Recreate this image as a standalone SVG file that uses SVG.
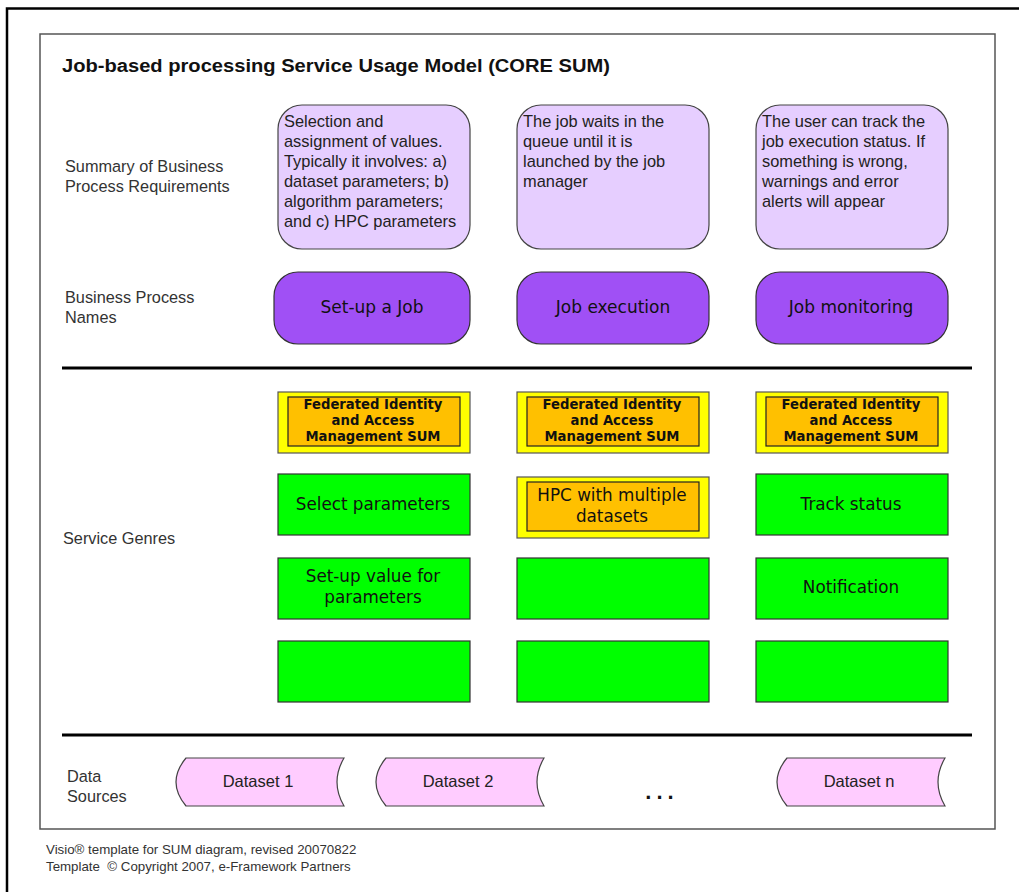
<svg xmlns="http://www.w3.org/2000/svg" width="1019" height="892" viewBox="0 0 1019 892">
<style>
.lbl{font-family:"Liberation Sans",Arial,sans-serif;font-size:16.3px;fill:#333}
.sum{fill:#E6CEFF;stroke:#444;stroke-width:1.2}
.sumt{font-family:"Liberation Sans",Arial,sans-serif;font-size:16.4px;fill:#222}
.proc{fill:#A050F5;stroke:#333;stroke-width:1.2}
.proct{font-family:"DejaVu Sans",Verdana,sans-serif;font-size:17px;fill:#111;text-anchor:middle}
.yel{fill:#FFFF00;stroke:#555;stroke-width:1.2}
.org{fill:#FFC000;stroke:#222;stroke-width:1.2}
.fiam{font-family:"DejaVu Sans",Verdana,sans-serif;font-size:13.2px;font-weight:bold;fill:#111;text-anchor:middle}
.grn{fill:#00FF00;stroke:#333;stroke-width:1.2}
.gt{font-family:"DejaVu Sans",Verdana,sans-serif;font-size:16.8px;fill:#111;text-anchor:middle}
.ds{fill:#FFCCFF;stroke:#444;stroke-width:1.2}
.dst{font-family:"Liberation Sans",Arial,sans-serif;font-size:16.5px;fill:#222;text-anchor:middle}
.foot{font-family:"Liberation Sans",Arial,sans-serif;font-size:13.3px;fill:#333}
</style>
<rect width="1019" height="892" fill="#fff"/>
<path d="M7 892 V8.5 H1019" fill="none" stroke="#000" stroke-width="2.5"/>
<rect x="40" y="34" width="955" height="795" fill="#fff" stroke="#555" stroke-width="1.5"/>
<text x="62" y="72" font-family="'Liberation Sans',Arial,sans-serif" font-size="18px" font-weight="bold" fill="#111" textLength="548" lengthAdjust="spacingAndGlyphs">Job-based processing Service Usage Model (CORE SUM)</text>

<g id="row-labels">
<text class="lbl" x="65" y="172">Summary of Business</text>
<text class="lbl" x="65" y="192">Process Requirements</text>
<text class="lbl" x="65" y="303">Business Process</text>
<text class="lbl" x="65" y="323">Names</text>
<text class="lbl" x="63" y="544">Service Genres</text>
<text class="lbl" x="67" y="782">Data</text>
<text class="lbl" x="67" y="802">Sources</text>
</g>

<g id="sum1"><rect class="sum" x="278" y="105" width="192" height="144" rx="24"/>
<text class="sumt" x="284" y="127">Selection and</text>
<text class="sumt" x="284" y="147">assignment of values.</text>
<text class="sumt" x="284" y="167">Typically it involves: a)</text>
<text class="sumt" x="284" y="187">dataset parameters; b)</text>
<text class="sumt" x="284" y="207">algorithm parameters;</text>
<text class="sumt" x="284" y="227">and c) HPC parameters</text></g>
<g id="sum2"><rect class="sum" x="517" y="105" width="192" height="144" rx="24"/>
<text class="sumt" x="523" y="127">The job waits in the</text>
<text class="sumt" x="523" y="147">queue until it is</text>
<text class="sumt" x="523" y="167">launched by the job</text>
<text class="sumt" x="523" y="187">manager</text></g>
<g id="sum3"><rect class="sum" x="756" y="105" width="192" height="144" rx="24"/>
<text class="sumt" x="762" y="127">The user can track the</text>
<text class="sumt" x="762" y="147">job execution status. If</text>
<text class="sumt" x="762" y="167">something is wrong,</text>
<text class="sumt" x="762" y="187">warnings and error</text>
<text class="sumt" x="762" y="207">alerts will appear</text></g>

<g id="proc1"><rect class="proc" x="274" y="272" width="196" height="72" rx="24"/><text class="proct" x="372" y="313">Set-up a Job</text></g>
<g id="proc2"><rect class="proc" x="517" y="272" width="192" height="72" rx="24"/><text class="proct" x="613" y="313">Job execution</text></g>
<g id="proc3"><rect class="proc" x="756" y="272" width="192" height="72" rx="24"/><text class="proct" x="851" y="313">Job monitoring</text></g>

<g id="separators">
<line x1="62" y1="368" x2="972" y2="368" stroke="#000" stroke-width="3"/>
<line x1="62" y1="735" x2="972" y2="735" stroke="#000" stroke-width="3"/>
</g>

<g id="fiam1"><rect class="yel" x="278" y="392" width="192" height="61"/><rect class="org" x="288" y="397" width="172" height="49"/>
<text class="fiam" x="373" y="409">Federated Identity</text><text class="fiam" x="373" y="425">and Access</text><text class="fiam" x="373" y="441">Management SUM</text></g>
<g id="fiam2"><rect class="yel" x="517" y="392" width="192" height="61"/><rect class="org" x="527" y="397" width="172" height="49"/>
<text class="fiam" x="612" y="409">Federated Identity</text><text class="fiam" x="612" y="425">and Access</text><text class="fiam" x="612" y="441">Management SUM</text></g>
<g id="fiam3"><rect class="yel" x="756" y="392" width="192" height="61"/><rect class="org" x="766" y="397" width="172" height="49"/>
<text class="fiam" x="851" y="409">Federated Identity</text><text class="fiam" x="851" y="425">and Access</text><text class="fiam" x="851" y="441">Management SUM</text></g>

<g id="g-select"><rect class="grn" x="278" y="474" width="192" height="61"/><text class="gt" x="373" y="510">Select parameters</text></g>
<g id="g-hpc"><rect class="yel" x="517" y="477" width="192" height="61"/><rect class="org" x="527" y="482" width="172" height="49"/>
<text class="gt" x="612" y="501">HPC with multiple</text><text class="gt" x="612" y="522">datasets</text></g>
<g id="g-track"><rect class="grn" x="756" y="474" width="192" height="61"/><text class="gt" x="851" y="510">Track status</text></g>

<g id="g-setup"><rect class="grn" x="278" y="558" width="192" height="61"/><text class="gt" x="373" y="582">Set-up value for</text><text class="gt" x="373" y="603">parameters</text></g>
<g id="g-empty1"><rect class="grn" x="517" y="558" width="192" height="61"/></g>
<g id="g-notif"><rect class="grn" x="756" y="558" width="192" height="61"/><text class="gt" x="851" y="593">Notification</text></g>

<g id="g-empty2"><rect class="grn" x="278" y="641" width="192" height="61"/></g>
<g id="g-empty3"><rect class="grn" x="517" y="641" width="192" height="61"/></g>
<g id="g-empty4"><rect class="grn" x="756" y="641" width="192" height="61"/></g>

<g id="ds1"><path class="ds" d="M186 758 H344 Q330 782 344 806 H186 Q166 782 186 758 Z"/><text class="dst" x="258" y="787">Dataset 1</text></g>
<g id="ds2"><path class="ds" d="M386 758 H544 Q530 782 544 806 H386 Q366 782 386 758 Z"/><text class="dst" x="458" y="787">Dataset 2</text></g>
<g id="ds-dots"><text x="662" y="799" font-family="'Liberation Sans',Arial,sans-serif" font-size="22px" font-weight="bold" fill="#111" text-anchor="middle" letter-spacing="5">...</text></g>
<g id="dsn"><path class="ds" d="M787 758 H945 Q931 782 945 806 H787 Q767 782 787 758 Z"/><text class="dst" x="859" y="787">Dataset n</text></g>

<g id="connectors"></g>

<text class="foot" x="46" y="854">Visio® template for SUM diagram, revised 20070822</text>
<text class="foot" x="46" y="871" xml:space="preserve">Template  © Copyright 2007, e-Framework Partners</text>
</svg>
